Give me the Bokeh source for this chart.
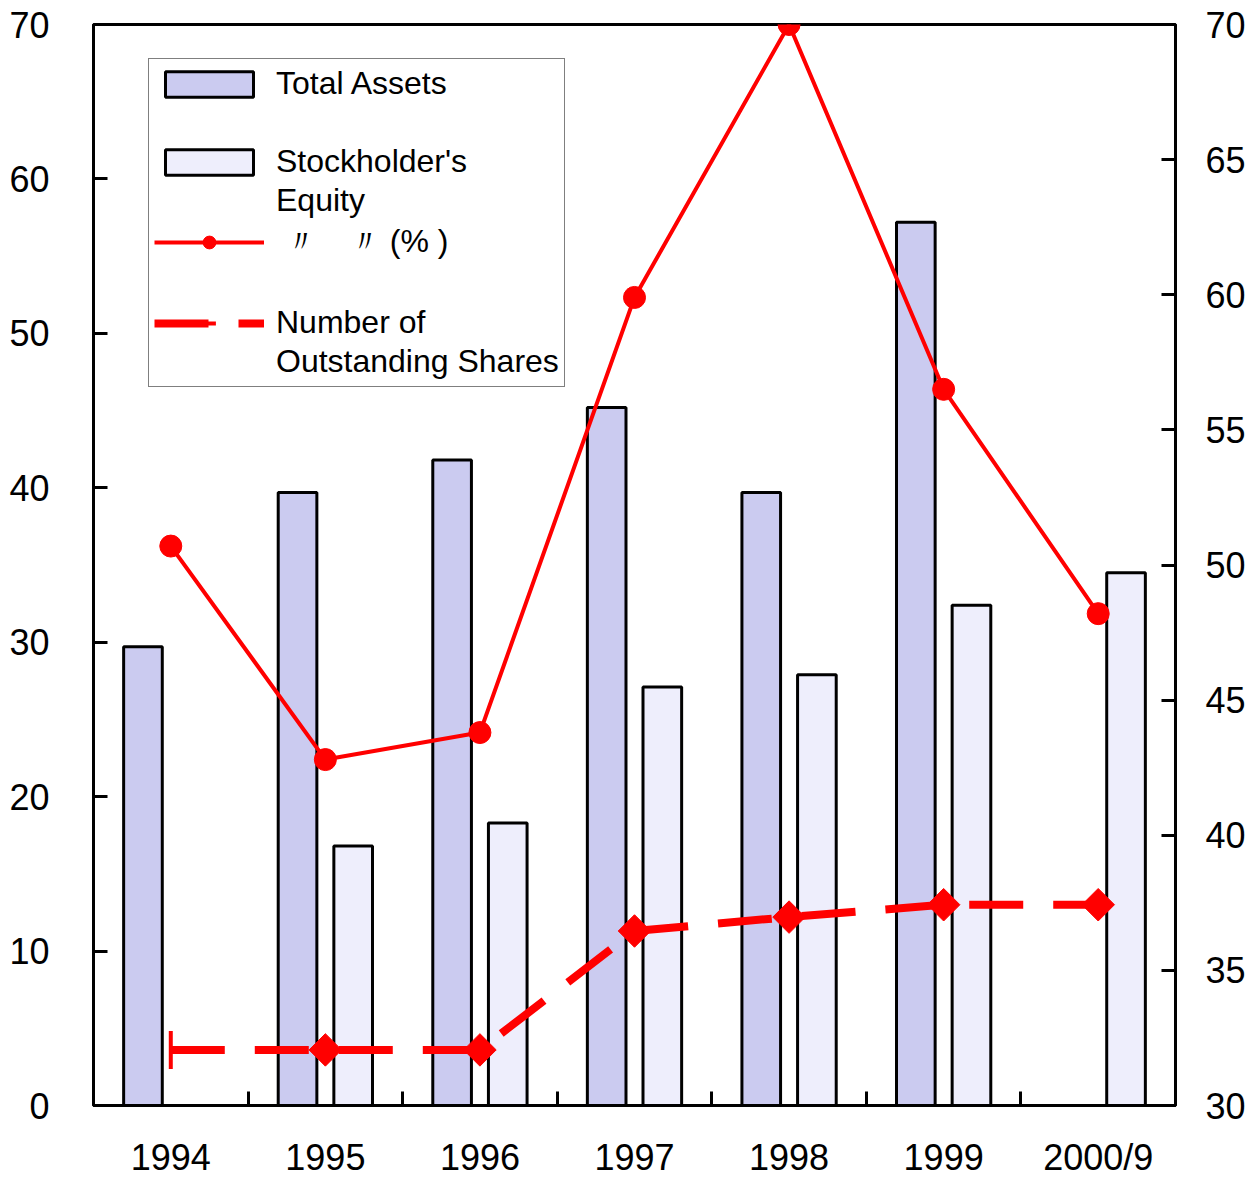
import math
from bokeh.plotting import figure
from bokeh.models import (ColumnDataSource, Range1d, LinearAxis, FixedTicker,
                          Legend, LegendItem, CDSView, IndexFilter)
from bokeh.transform import dodge
from bokeh.embed import file_html
from bokeh.resources import INLINE

# ---------------- data ----------------
categories = ["1994", "1995", "1996", "1997", "1998", "1999", "2000/9"]
total_assets = [29.7, 39.7, 41.8, 45.2, 39.7, 57.2, float("nan")]
equity = [float("nan"), 16.8, 18.3, 27.1, 27.9, 32.4, 34.5]
equity_ratio = [50.7, 42.8, 43.8, 59.9, 70.0, 56.5, 48.2]
shares = [3.6, 3.6, 3.6, 11.3, 12.2, 13.0, 13.0]
left_ticks = [0, 10, 20, 30, 40, 50, 60, 70]
right_ticks = [30, 35, 40, 45, 50, 55, 60, 65, 70]

FONT = "Liberation Sans"
RED = "#FF0000"

idx = list(range(len(categories)))
src = ColumnDataSource(dict(x=idx, ta=total_assets, se=equity,
                            ratio=equity_ratio, shares=shares))

p = figure(width=1260, height=1180, output_backend="svg", toolbar_location=None,
           x_range=Range1d(-0.5, len(categories) - 0.5), y_range=Range1d(0, 70),
           min_border_left=93, min_border_right=85, min_border_top=24,
           min_border_bottom=75, x_axis_location=None, y_axis_location=None)
p.extra_y_ranges = {"ratio": Range1d(30, 70)}
p.grid.visible = False
p.outline_line_color = "black"
p.outline_line_width = 3
p.background_fill_color = "white"
p.border_fill_color = "white"

def style_axis(ax):
    ax.axis_line_width = 3
    ax.axis_line_color = "black"
    ax.major_tick_line_width = 3
    ax.major_tick_line_color = "black"
    ax.major_tick_in = 14
    ax.major_tick_out = 0
    ax.minor_tick_line_width = 3
    ax.minor_tick_line_color = "black"
    ax.minor_tick_in = 0
    ax.minor_tick_out = 0
    ax.major_label_text_font = FONT
    ax.major_label_text_font_size = "36px"
    ax.major_label_text_color = "black"

# bottom axis: labels at category centres, tick marks at category boundaries
xax = LinearAxis(ticker=FixedTicker(ticks=idx,
                                    minor_ticks=[i + 0.5 for i in idx[:-1]]))
style_axis(xax)
xax.major_tick_in = 0
xax.minor_tick_in = 14
xax.major_label_overrides = {i: c for i, c in zip(idx, categories)}
xax.major_label_standoff = 31
p.add_layout(xax, "below")

yl = LinearAxis(ticker=FixedTicker(ticks=left_ticks, minor_ticks=[]))
style_axis(yl)
yl.major_label_standoff = 44
p.add_layout(yl, "left")

yr = LinearAxis(y_range_name="ratio", ticker=FixedTicker(ticks=right_ticks, minor_ticks=[]))
style_axis(yr)
yr.major_label_standoff = 30
p.add_layout(yr, "right")

# bars
r_ta = p.vbar(x=dodge("x", -0.18, range=p.x_range), top="ta", bottom=0, width=0.25,
              source=src, fill_color="#CBCBF0", line_color="black", line_width=3)
r_se = p.vbar(x=dodge("x", 0.18, range=p.x_range), top="se", bottom=0, width=0.25,
              source=src, fill_color="#EEEEFC", line_color="black", line_width=3)

# equity ratio line (right axis)
r_rl = p.line("x", "ratio", source=src, y_range_name="ratio", line_color=RED, line_width=4)
r_rm = p.scatter("x", "ratio", source=src, y_range_name="ratio", marker="circle",
                 size=22, fill_color=RED, line_color=RED)

# number of outstanding shares (left axis)
r_sl = p.line("x", "shares", source=src, line_color=RED, line_width=8, line_dash="54 30")
r_s0 = p.scatter("x", "shares", source=src, view=CDSView(filter=IndexFilter([0])),
                 marker="dash", angle=math.pi / 2, size=38, line_color=RED, line_width=4)
r_sd = p.scatter("x", "shares", source=src,
                 view=CDSView(filter=IndexFilter(idx[1:])),
                 marker="square", angle=math.pi / 4, size=23,
                 fill_color=RED, line_color=RED)

# legend: one row per text line, glyph on the first line of each entry
legend = Legend(items=[
    LegendItem(label="Total Assets", renderers=[r_ta]),
    LegendItem(label=" ", renderers=[]),
    LegendItem(label="Stockholder's", renderers=[r_se]),
    LegendItem(label="Equity", renderers=[]),
    LegendItem(label=" \u3003\u3000\u3003 (% )", renderers=[r_rl, r_rm]),
    LegendItem(label=" ", renderers=[]),
    LegendItem(label="Number of", renderers=[r_sl, r_s0]),
    LegendItem(label="Outstanding Shares", renderers=[]),
], location=(55, 718))
legend.border_line_color = "black"
legend.border_line_width = 1.5
legend.background_fill_color = "white"
legend.background_fill_alpha = 1
legend.label_text_font = FONT
legend.label_text_font_size = "32px"
legend.label_text_color = "black"
legend.label_standoff = 12
legend.glyph_width = 110
legend.glyph_height = 32
legend.label_height = 39
legend.spacing = 0
legend.padding = 5
legend.margin = 0
p.add_layout(legend, "center")

open("out.html", "w").write(file_html(p, INLINE))
